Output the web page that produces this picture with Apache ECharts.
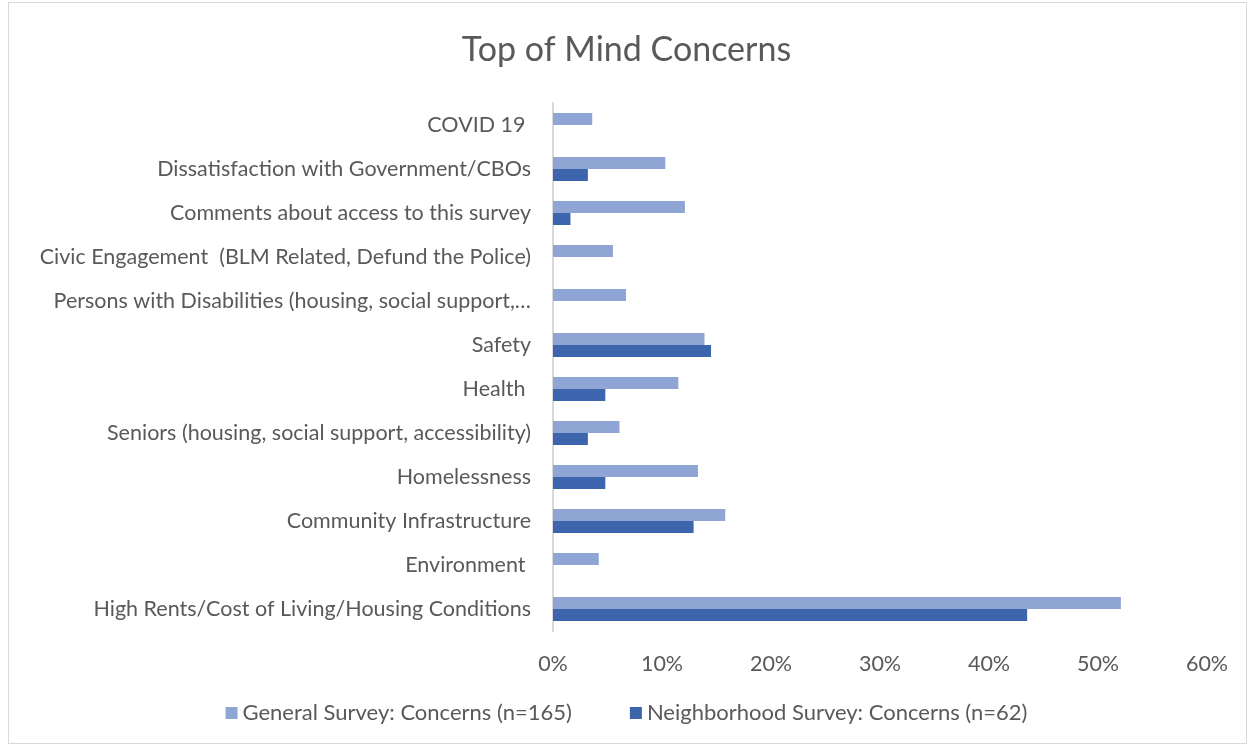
<!DOCTYPE html>
<html><head><meta charset="utf-8">
<script src="https://cdn.jsdelivr.net/npm/echarts@6/dist/echarts.min.js"></script>
<style>html,body{margin:0;padding:0;background:#fff}
#frame{position:absolute;left:8px;top:2px;width:1239px;height:742px;border:1px solid #d9d9d9;box-sizing:border-box}
#c{position:absolute;left:0;top:0;width:1253px;height:748px}</style>
</head><body><div id="frame"></div><div id="c"></div>
<script>
// categories listed bottom to top
const categories = [
  "High Rents/Cost of Living/Housing Conditions",
  "Environment ",
  "Community Infrastructure",
  "Homelessness",
  "Seniors (housing, social support, accessibility)",
  "Health ",
  "Safety",
  "Persons with Disabilities (housing, social support,…",
  "Civic Engagement  (BLM Related, Defund the Police)",
  "Comments about access to this survey",
  "Dissatisfaction with Government/CBOs",
  "COVID 19 "
];
const generalSurvey = [0.521, 0.042, 0.158, 0.133, 0.061, 0.115, 0.139, 0.067, 0.055, 0.121, 0.103, 0.036];
const neighborhoodSurvey = [0.435, null, 0.129, 0.048, 0.032, 0.048, 0.145, null, null, 0.016, 0.032, null];
const xTicks = [0, 0.1, 0.2, 0.3, 0.4, 0.5, 0.6];
const seriesNames = ["General Survey: Concerns (n=165)", "Neighborhood Survey: Concerns (n=62)"];

const font = "Lato, 'Open Sans', sans-serif";
const chart = echarts.init(document.getElementById('c'));
chart.setOption({
  animation: false,
  title: {text: "Top of Mind Concerns", left: 'center', top: 28,
    textStyle: {fontFamily: font, fontSize: 34, fontWeight: 'normal', color: '#595959'}},
  legend: {bottom: 19, left: 'center', itemWidth: 12, itemHeight: 12, itemGap: 58,
    icon: 'rect', textStyle: {fontFamily: font, fontSize: 22, color: '#595959'},
    data: seriesNames},
  grid: {left: 553, right: 46, top: 103, bottom: 117, containLabel: false},
  xAxis: {type: 'value', min: xTicks[0], max: xTicks[xTicks.length-1], interval: 0.1,
    axisLine: {show: false}, axisTick: {show: false}, splitLine: {show: false},
    axisLabel: {fontFamily: font, fontSize: 21.5, color: '#595959', margin: 22,
      formatter: v => Math.round(v*100) + '%'}},
  yAxis: {type: 'category', data: categories,
    axisLine: {show: true, lineStyle: {color: '#d9d9d9', width: 2}},
    axisTick: {show: false},
    axisLabel: {fontFamily: font, fontSize: 21.5, color: '#595959', margin: 22}},
  series: [
    {name: seriesNames[0], type: 'bar', data: generalSurvey, barWidth: 12, barGap: '0%',
      itemStyle: {color: '#8fa5d4'}},
    {name: seriesNames[1], type: 'bar', data: neighborhoodSurvey, barWidth: 12, barGap: '0%',
      itemStyle: {color: '#3c65ad'}}
  ]
});
</script></body></html>
